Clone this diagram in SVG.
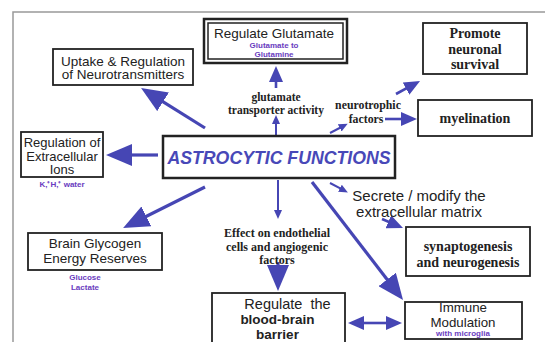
<svg xmlns="http://www.w3.org/2000/svg" width="545" height="342" viewBox="0 0 545 342">
<style>
.box{fill:#fff;stroke:#222;stroke-width:1.8}
.sans{font-family:"Liberation Sans",Arial,sans-serif;fill:#222;text-anchor:middle}
.serif{font-family:"Liberation Serif","Times New Roman",serif;font-weight:bold;fill:#222;text-anchor:middle}
.sub{font-family:"Liberation Sans",Arial,sans-serif;font-weight:bold;fill:#6a3cc0;font-size:8px;text-anchor:middle}
.big{stroke:#4646b4;stroke-width:3.2;fill:none;marker-end:url(#hb)}
.med{stroke:#4646b4;stroke-width:2.6;fill:none;marker-end:url(#hm)}
.thin{stroke:#4646b4;stroke-width:2;fill:none;marker-end:url(#hs)}
</style>
<defs>
<marker id="hb" markerUnits="userSpaceOnUse" viewBox="0 0 26 22" refX="6" refY="11" markerWidth="26" markerHeight="22" orient="auto"><path d="M0,0 L26,11 L0,22 z" fill="#4646b4"/></marker>
<marker id="hm" markerUnits="userSpaceOnUse" viewBox="0 0 16 14" refX="4" refY="7" markerWidth="16" markerHeight="14" orient="auto-start-reverse"><path d="M0,0 L16,7 L0,14 z" fill="#4646b4"/></marker>
<marker id="hs" markerUnits="userSpaceOnUse" viewBox="0 0 9 8" refX="2" refY="4" markerWidth="9" markerHeight="8" orient="auto"><path d="M0,0 L9,4 L0,8 z" fill="#4646b4"/></marker>
</defs>
<rect width="545" height="342" fill="#fff"/>
<path d="M13,342 V12 H545" fill="none" stroke="#999" stroke-width="1.5"/>

<g id="connectors">
<line class="big" x1="205" y1="128" x2="158" y2="98.6"/>
<line class="med" x1="276" y1="88" x2="276" y2="78"/>
<line class="thin" x1="276" y1="135" x2="276" y2="122"/>
<line class="thin" x1="330" y1="133" x2="341.5" y2="127"/>
<line class="med" x1="396" y1="94" x2="409.5" y2="86.7"/>
<line class="med" x1="385" y1="119" x2="405" y2="119"/>
<line class="big" x1="158" y1="155" x2="126" y2="155"/>
<line class="big" x1="205" y1="187" x2="141" y2="219"/>
<line class="thin" x1="278" y1="180" x2="278" y2="212"/>
<line class="big" x1="278" y1="262" x2="278" y2="271"/>
<line class="big" x1="312" y1="182" x2="390.8" y2="284.2"/>
<line class="thin" x1="330" y1="183" x2="341.7" y2="189.2"/>
<line class="med" x1="382" y1="219" x2="392" y2="223.3"/>
<line class="med" x1="360" y1="323" x2="390" y2="323" marker-start="url(#hm)"/>
</g>

<g id="uptake">
<rect class="box" x="53" y="49" width="140" height="36"/>
<text class="sans" font-size="13.5" x="123" y="65.5">Uptake &amp; Regulation</text>
<text class="sans" font-size="13.5" x="123" y="79">of Neurotransmitters</text>
</g>

<g id="glutamate">
<rect x="204" y="19" width="143" height="44" fill="#fff" stroke="#222" stroke-width="2.5"/>
<rect x="208" y="23" width="135" height="36" fill="none" stroke="#222" stroke-width="1.5"/>
<text class="sans" font-size="13.5" x="274" y="38">Regulate Glutamate</text>
<text class="sub" x="274" y="48">Glutamate to</text>
<text class="sub" x="274" y="56.5">Glutamine</text>
</g>

<g id="glutamate-label">
<text class="serif" font-size="11.5" x="276" y="101">glutamate</text>
<text class="serif" font-size="11.5" x="276" y="114">transporter activity</text>
</g>

<g id="neurotrophic-label">
<text class="serif" font-size="11.8" x="368" y="109">neurotrophic</text>
<text class="serif" font-size="11.8" x="366" y="123">factors</text>
</g>

<g id="promote">
<rect class="box" x="423" y="23" width="104" height="51"/>
<text class="serif" font-size="14" x="475" y="38">Promote</text>
<text class="serif" font-size="14" x="475" y="54">neuronal</text>
<text class="serif" font-size="14" x="475" y="69">survival</text>
</g>

<g id="myelination">
<rect class="box" x="418" y="100" width="114" height="36"/>
<text class="serif" font-size="14" x="475" y="123">myelination</text>
</g>

<g id="ions">
<rect class="box" x="21" y="132" width="82" height="45"/>
<text class="sans" font-size="13" x="62" y="146.5">Regulation of</text>
<text class="sans" font-size="13" x="62" y="160.5">Extracellular</text>
<text class="sans" font-size="13" x="62" y="174">Ions</text>
<text class="sub" x="62" y="187">K,⁺H,⁺ water</text>
</g>

<g id="astrocytic">
<rect x="163" y="136" width="232" height="42" fill="#fff" stroke="#222" stroke-width="2.5"/>
<text x="279" y="163.5" font-family="Liberation Sans,Arial,sans-serif" font-weight="bold" font-style="italic" font-size="17.7" fill="#4848b8" text-anchor="middle">ASTROCYTIC FUNCTIONS</text>
</g>

<g id="glycogen">
<rect class="box" x="28" y="233" width="134" height="37"/>
<text class="sans" font-size="13.5" x="95" y="248">Brain Glycogen</text>
<text class="sans" font-size="13.5" x="95" y="263">Energy Reserves</text>
<text class="sub" x="85" y="280">Glucose</text>
<text class="sub" x="85" y="290">Lactate</text>
</g>

<g id="secrete">
<text class="sans" font-size="15" x="419" y="201">Secrete / modify the</text>
<text class="sans" font-size="15" x="419" y="217">extracellular matrix</text>
</g>

<g id="synaptogenesis">
<rect class="box" x="406" y="227" width="124" height="49"/>
<text class="serif" font-size="14" x="468" y="251">synaptogenesis</text>
<text class="serif" font-size="14" x="468" y="267">and neurogenesis</text>
</g>

<g id="effect-label">
<text class="serif" font-size="12" x="277" y="237">Effect on endothelial</text>
<text class="serif" font-size="12" x="277" y="251">cells and angiogenic</text>
<text class="serif" font-size="12" x="277" y="264">factors</text>
</g>

<g id="bbb">
<rect class="box" x="212" y="293" width="133" height="60"/>
<text class="sans" font-size="14.5" x="287.5" y="309" xml:space="preserve">Regulate  the</text>
<text class="sans" font-size="13.5" font-weight="bold" x="277.5" y="323.5">blood-brain</text>
<text class="sans" font-size="13.5" font-weight="bold" x="277.5" y="338.5">barrier</text>
</g>

<g id="immune">
<rect class="box" x="405" y="302" width="117" height="37"/>
<text class="sans" font-size="13.3" x="463" y="311.5">Immune</text>
<text class="sans" font-size="13.3" x="463" y="326.5">Modulation</text>
<text class="sub" x="463" y="335.5">with microglia</text>
</g>
</svg>
